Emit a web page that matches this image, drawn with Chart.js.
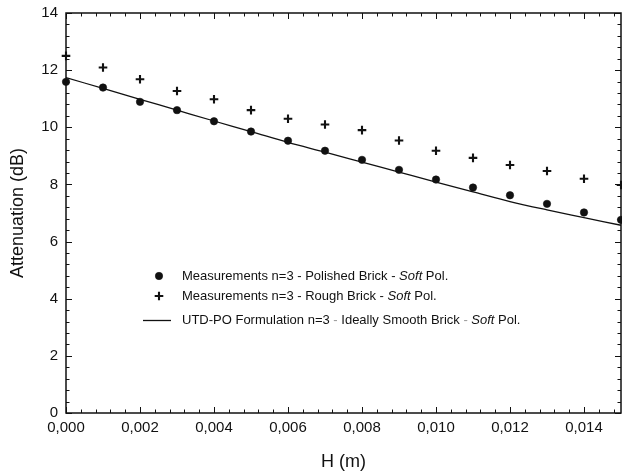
<!DOCTYPE html>
<html><head><meta charset="utf-8">
<script src="https://cdn.jsdelivr.net/npm/chart.js@4.4.0/dist/chart.umd.min.js"></script>
<style>html,body{margin:0;padding:0;background:#fff}#wrap{width:622px;height:476px;position:relative}</style>
</head><body><div id="wrap"><canvas id="c" width="622" height="476"></canvas></div>
<script>
// ---- data ----
const heights  = [0.000,0.001,0.002,0.003,0.004,0.005,0.006,0.007,0.008,0.009,0.010,0.011,0.012,0.013,0.014,0.015];
const polished = [11.59,11.39,10.89,10.60,10.21,9.85,9.53,9.18,8.86,8.51,8.17,7.89,7.62,7.32,7.02,6.76];
const rough    = [12.50,12.09,11.68,11.27,10.98,10.60,10.30,10.10,9.90,9.54,9.18,8.93,8.68,8.47,8.20,7.98];
const utdpo    = [11.74,11.36,10.98,10.60,10.22,9.85,9.47,9.13,8.78,8.43,8.08,7.74,7.40,7.11,6.84,6.57];
const xTitle = 'H (m)';
const yTitle = 'Attenuation (dB)';
const legendPolished = [['Measurements n=3 - Polished Brick - ',''],['Soft','i'],[' Pol.','']];
const legendRough    = [['Measurements n=3 - Rough Brick - ',''],['Soft','i'],[' Pol.','']];
const legendUtd      = [['UTD-PO Formulation n=3 ',''],['-','g'],[' Ideally Smooth Brick ',''],['-','g'],[' ',''],['Soft','i'],[' Pol.','']];

const FONT = "'Liberation Sans', Arial, sans-serif";
const INK = '#111';

const toXY = (ys) => heights.map((h, i) => ({x: h, y: ys[i]}));

const frameTicks = {
  id: 'frameTicks',
  afterDraw(chart) {
    const {ctx, chartArea: a, scales: {x, y}} = chart;
    ctx.save();
    ctx.strokeStyle = INK;
    ctx.lineWidth = 1;
    const xStep = 0.0004, yStep = 0.4;
    const xn = Math.floor((x.max - x.min) / xStep + 1e-6);
    ctx.beginPath();
    for (let i = 0; i <= xn; i++) {
      const px = Math.round(x.getPixelForValue(x.min + i * xStep)) + 0.5;
      const len = i % 5 === 0 ? 6 : 3.5;
      ctx.moveTo(px, a.bottom); ctx.lineTo(px, a.bottom - len);
      ctx.moveTo(px, a.top); ctx.lineTo(px, a.top + len);
    }
    const yn = Math.floor((y.max - y.min) / yStep + 1e-6);
    for (let i = 0; i <= yn; i++) {
      const py = Math.round(y.getPixelForValue(y.min + i * yStep)) + 0.5;
      const len = i % 5 === 0 ? 6 : 3.5;
      ctx.moveTo(a.left, py); ctx.lineTo(a.left + len, py);
      ctx.moveTo(a.right, py); ctx.lineTo(a.right - len, py);
    }
    ctx.stroke();
    ctx.lineWidth = 1.5;
    ctx.strokeRect(a.left, a.top, a.right - a.left, a.bottom - a.top);
    ctx.restore();
  }
};

const legendPlugin = {
  id: 'customLegend',
  afterDraw(chart) {
    const ctx = chart.ctx;
    const rows = [
      {segs: legendPolished, ds: 0, y: 276},
      {segs: legendRough, ds: 1, y: 296},
      {segs: legendUtd, ds: 2, y: 320}
    ];
    ctx.save();
    rows.forEach(r => {
      const d = chart.data.datasets[r.ds];
      if (d.showLine) {
        ctx.strokeStyle = INK; ctx.lineWidth = 1.3;
        ctx.beginPath(); ctx.moveTo(143, r.y + 0.5); ctx.lineTo(171, r.y + 0.5); ctx.stroke();
      } else {
        ctx.fillStyle = INK; ctx.strokeStyle = INK; ctx.lineWidth = d.borderWidth;
        Chart.helpers.drawPoint(ctx, {pointStyle: d.pointStyle, radius: d.pointRadius, borderWidth: d.borderWidth, rotation: 0}, 159, r.y);
      }
      let x = 182;
      ctx.textBaseline = 'middle';
      r.segs.forEach(([t, st]) => {
        ctx.font = (st === 'i' ? 'italic ' : '') + '13px ' + FONT;
        ctx.fillStyle = st === 'g' ? '#999' : INK;
        ctx.fillText(t, x, r.y);
        x += ctx.measureText(t).width;
      });
    });
    ctx.restore();
  }
};

new Chart(document.getElementById('c'), {
  type: 'scatter',
  data: {
    datasets: [
      {label: 'polished', data: toXY(polished), pointStyle: 'circle', pointRadius: 3.7, pointHoverRadius: 3.7,
       backgroundColor: INK, borderColor: INK, borderWidth: 0.6, clip: false, order: 0},
      {label: 'rough', data: toXY(rough), pointStyle: 'cross', pointRadius: 4.3, pointHoverRadius: 4.3,
       backgroundColor: INK, borderColor: INK, borderWidth: 2.1, clip: false, order: 1},
      {label: 'utdpo', data: toXY(utdpo), showLine: true, pointRadius: 0, borderColor: INK, borderWidth: 1.3,
       tension: 0.3, cubicInterpolationMode: 'monotone', order: 2}
    ]
  },
  options: {
    responsive: false,
    animation: false,
    devicePixelRatio: 1,
    layout: {autoPadding: false, padding: {top: 13, right: 1, left: 0, bottom: 0}},
    plugins: {legend: {display: false}, tooltip: {enabled: false}},
    scales: {
      x: {
        type: 'linear', min: 0, max: 0.015,
        grid: {display: false, drawTicks: false},
        border: {display: false},
        ticks: {stepSize: 0.002, includeBounds: false, padding: 6, color: INK,
          font: {family: FONT, size: 15},
          callback: v => Number(v).toFixed(3).replace('.', ',')},
        title: {display: true, text: xTitle, color: INK, font: {family: FONT, size: 18}, padding: {top: 0, bottom: 3}},
        afterFit: s => { s.height = 63; s.paddingLeft = 0; s.paddingRight = 0; }
      },
      y: {
        type: 'linear', min: 0, max: 14,
        grid: {display: false, drawTicks: false},
        border: {display: false},
        ticks: {stepSize: 2, padding: 8, color: INK, font: {family: FONT, size: 15}},
        title: {display: true, text: yTitle, color: INK, font: {family: FONT, size: 18}, padding: {top: 7, bottom: 0}},
        afterFit: s => { s.width = 66; s.paddingTop = 0; s.paddingBottom = 0; }
      }
    }
  },
  plugins: [frameTicks, legendPlugin]
});
</script>
</body></html>
